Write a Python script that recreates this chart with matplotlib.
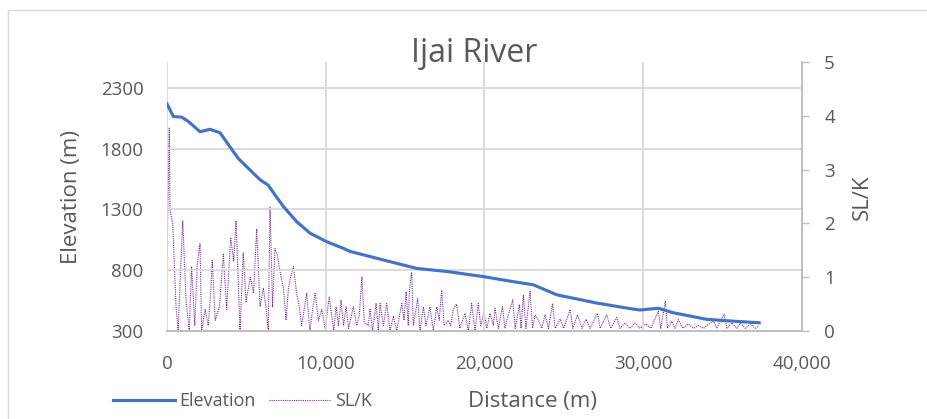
import matplotlib.pyplot as plt
import matplotlib.patches as mpatches
from matplotlib.ticker import FuncFormatter

plt.rcParams['font.family'] = ['Open Sans', 'DejaVu Sans']

# elevation profile
dist_elev = [0, 400, 925, 1340, 2080, 2710, 3340, 3970, 4490, 5230, 5860, 6380, 6800,
             7330, 8170, 9010, 10060, 11110, 11530, 13620, 15730, 17620, 19920, 21820,
             23080, 24550, 27070, 29370, 29800, 30950, 31900, 34000, 36100, 37300]
elev = [2170, 2065, 2060, 2025, 1940, 1960, 1932, 1815, 1720, 1625, 1545, 1500, 1420,
        1325, 1200, 1105, 1035, 980, 955, 885, 815, 790, 748, 706,
        680, 598, 530, 480, 473, 487, 450, 396, 377, 368]

# SL/K index
dist_slk = [0, 145, 190, 360, 570, 700, 990, 1200, 1400, 1550, 1750, 1910, 2080, 2180,
            2400, 2600, 2750, 2850, 3040, 3300, 3550, 3760, 4010, 4200, 4350, 4500, 4600,
            4800, 4980, 5250, 5450, 5650, 5860, 6070, 6230, 6380, 6490, 6650, 6800, 6940,
            7120, 7330, 7500, 7650, 7790, 7960, 8170, 8330, 8480, 8800, 9000, 9170, 9330,
            9540, 9750, 9960, 10220, 10500, 10650, 10800, 10960, 11120, 11280, 11440, 11740,
            11950, 12110, 12280, 12430, 12680, 12790, 12950, 13170, 13310, 13420, 13630,
            13840, 14050, 14260, 14470, 14790, 14930, 15060, 15200, 15270, 15410, 15520,
            15790, 15940, 16150, 16310, 16560, 16780, 16990, 17150, 17300, 17460, 17720,
            17860, 18030, 18240, 18450, 18770, 18980, 19190, 19400, 19610, 19760, 19970,
            20140, 20350, 20560, 20660, 20870, 21130, 21290, 21500, 21780, 21930, 22200,
            22300, 22450, 22610, 22870, 23030, 23180, 23400, 23610, 23820, 24030, 24290,
            24450, 24770, 24980, 25400, 25560, 25860, 26140, 26400, 26650, 27120, 27280,
            27700, 27950, 28330, 28540, 28850, 29170, 29480, 29800, 30000, 30160, 30480,
            30950, 31100, 31390, 31520, 31790, 32000, 32210, 32490, 32840, 33160, 33480,
            33800, 34110, 34430, 34640, 34850, 35090, 35270, 35590, 35900, 36120, 36430,
            36750, 37070, 37280]
slk = [1.4, 3.77, 2.23, 2.0, 0.45, 0, 2.05, 0.57, 0, 1.19, 0.1, 1.25, 1.62, 0,
       0.4, 0.1, 0.7, 1.31, 0.2, 0.45, 1.43, 0.4, 1.74, 1.3, 2.05, 0.8, 0,
       1.45, 0.55, 1.0, 0.7, 1.9, 0.45, 0.8, 0.45, 0, 2.31, 0.45, 1.53, 1.43,
       1.1, 0.8, 0.2, 0.8, 1.0, 1.2, 0.7, 0.45, 0.1, 0.7, 0, 0.4, 0.7,
       0.2, 0.4, 0.05, 0.63, 0, 0.45, 0.1, 0.57, 0.1, 0.45, 0.05, 0.45,
       0.1, 0.28, 1.01, 0.15, 0.1, 0.4, 0, 0.51, 0, 0.51, 0.1,
       0.51, 0, 0.28, 0, 0.51, 0.2, 0.73, 0.1, 0.76, 1.09, 0.1,
       0.6, 0, 0.45, 0.1, 0.45, 0, 0.45, 0.2, 0.76, 0.1, 0.2,
       0.1, 0.4, 0.5, 0.05, 0.33, 0, 0.51, 0, 0.51, 0.1, 0.35,
       0.05, 0.33, 0.1, 0.42, 0.05, 0.45, 0.05, 0.3, 0.58, 0.05, 0.49,
       0.05, 0.66, 0.05, 0.74, 0.05, 0.3, 0.2, 0.05, 0.3, 0.05, 0.51,
       0.05, 0.22, 0.05, 0.4, 0.05, 0.3, 0.05, 0.22, 0.05, 0.33, 0.05,
       0.3, 0.05, 0.25, 0.05, 0.15, 0.05, 0.15, 0.05, 0.1, 0.13, 0.05,
       0.37, 0.05, 0.56, 0.05, 0.18, 0.05, 0.21, 0.05, 0.13, 0.05, 0.1,
       0.05, 0.13, 0.18, 0.05, 0.18, 0.31, 0.05, 0.15, 0.05, 0.15, 0.05,
       0.13, 0.05, 0.1]

x_ticks = [0, 10000, 20000, 30000, 40000]
elev_ticks = [300, 800, 1300, 1800, 2300]
slk_ticks = [0, 1, 2, 3, 4, 5]

txt = '#595959'
grid = '#d9d9d9'

fig = plt.figure(figsize=(9.28, 4.19), dpi=100)
ax = fig.add_axes([167/928, 1 - 331/419, (802 - 167)/928, (331 - 62)/419])
ax2 = ax.twinx()

# series
l1, = ax.plot(dist_elev, elev, color='#4472C4', lw=2.25, zorder=3)
l2, = ax2.plot(dist_slk, slk, color='#7030A0', lw=0.8, ls=(0, (1, 1)))
ax.set_zorder(ax2.get_zorder() + 1)
ax.patch.set_visible(False)

# axes
ax.set_xlim(0, 40000)
ax.set_ylim(300, 300 + (331 - 62) / 60.75 * 500)
ax.set_xticks(x_ticks)
ax.set_yticks(elev_ticks)
ax.xaxis.set_major_formatter(FuncFormatter(lambda v, p: f'{int(v):,}'))
ax2.set_ylim(0, 5)
ax2.set_yticks(slk_ticks)

ax.grid(True, color=grid, lw=1.3)
ax.tick_params(axis='x', length=0, pad=17, labelsize=13.5, labelcolor=txt)
ax.tick_params(axis='y', length=0, pad=17, labelsize=13.5, labelcolor=txt)
ax2.tick_params(axis='y', length=5, width=1, color='#bfbfbf', pad=11,
                labelsize=13.5, labelcolor=txt, direction='out')
for a in (ax, ax2):
    for s in ('top', 'left'):
        a.spines[s].set_visible(False)
    a.spines['bottom'].set_color('#bfbfbf')
    a.spines['right'].set_color('#bfbfbf')
    a.spines['bottom'].set_linewidth(1.3)
    a.spines['right'].set_linewidth(1.3)

# titles
fig.text(474/928, 1 - 53/419, 'Ijai River', ha='center', va='center', fontsize=23, color=txt)
fig.text(72/928, 1 - 197/419, 'Elevation (m)', ha='center', va='center', rotation=90,
         fontsize=16, color=txt)
fig.text(862/928, 1 - 197/419, 'SL/K', ha='center', va='center', rotation=90,
         fontsize=16, color=txt)
fig.text(533/928, 1 - 401/419, 'Distance (m)', ha='center', va='center', fontsize=16, color=txt)

# legend
fig.legend([l1, l2], ['Elevation', 'SL/K'], loc='center left',
           bbox_to_anchor=(97/928, 1 - 401/419), ncol=2, frameon=False,
           fontsize=13, handlelength=3.4, handletextpad=0.28, columnspacing=0.7,
           labelcolor=txt)

# chart border
fig.add_artist(mpatches.Rectangle((8/928, -0.1), 1.0, 1 - 10/419 + 0.1,
                                  transform=fig.transFigure, fill=False,
                                  ec=grid, lw=1))

plt.savefig('out.png', dpi=100)
